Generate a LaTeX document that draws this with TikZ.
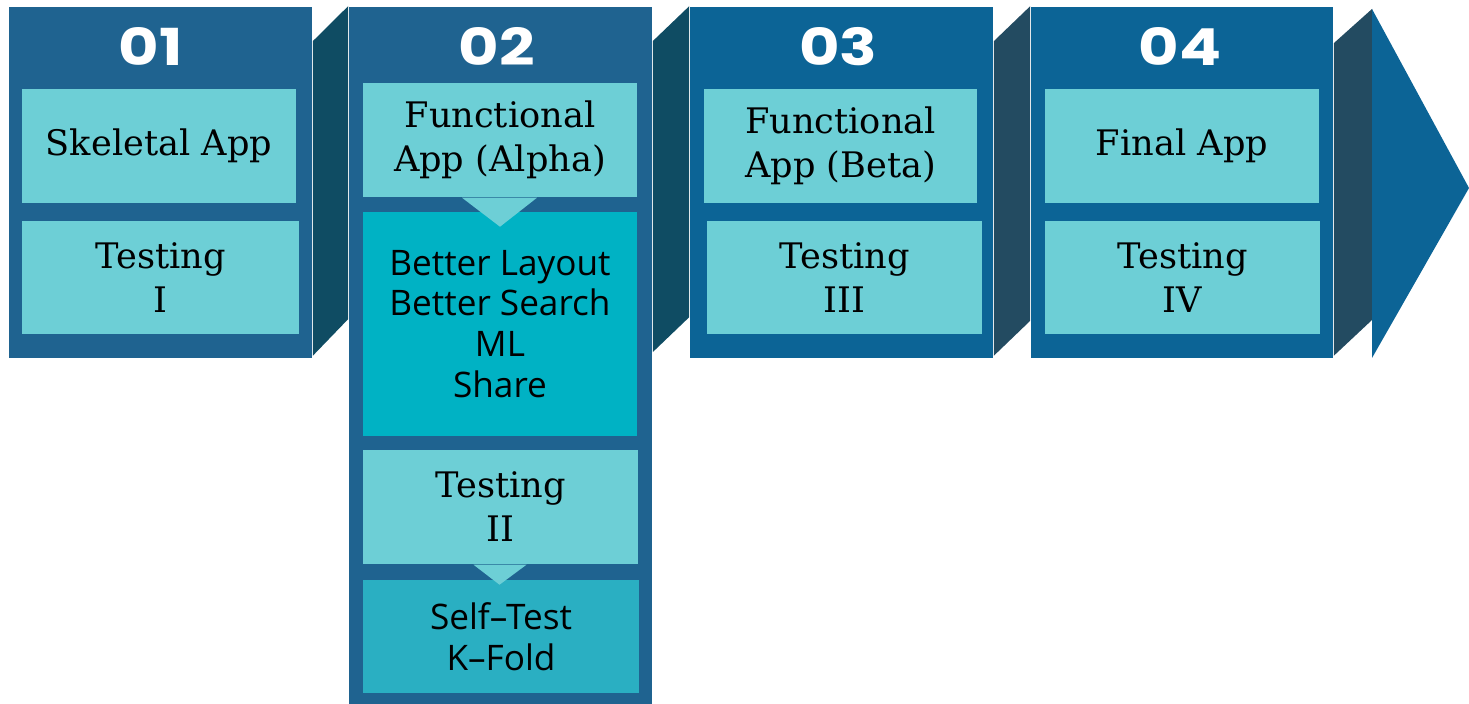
\documentclass[tikz,border=0pt]{standalone}
\usepackage{fontspec}
\setmainfont{DejaVu Serif}
\newfontfamily\headfont{Poppins}[FakeStretch=1.22]
\newfontfamily\listfont{Open Sans}
\usepackage{tikz}
\usetikzlibrary{calc}

\definecolor{panelA}{RGB}{31,99,144}
\definecolor{panelB}{RGB}{12,100,150}
\definecolor{faceA}{RGB}{15,76,99}
\definecolor{faceB}{RGB}{35,75,97}
\definecolor{tileLight}{RGB}{109,207,214}
\definecolor{tileMid}{RGB}{0,178,196}
\definecolor{tileSelf}{RGB}{42,175,194}

\begin{document}
\begin{tikzpicture} [x=0.01cm, y=-0.01cm,
  panel/.style={rectangle, inner sep=0pt, minimum width=3.03cm, minimum height=3.51cm},
  tile/.style={rectangle, inner sep=0pt, align=center, fill=tileLight,
               minimum width=2.74cm, minimum height=1.14cm, font=\fontsize{10}{12.5}\selectfont},
  listtile/.style={tile, font=\listfont\fontsize{10}{11.6}\selectfont},
  head/.style={text=white, inner sep=0pt, font=\headfont\bfseries\fontsize{14.5}{14.5}\selectfont}]
\useasboundingbox (0,0) rectangle (1469,704);

\path (160.5, 182.5) node[panel, fill=panelA] (p1) {}
      (500.5, 355.5) node[panel, fill=panelA, minimum height=6.97cm] (p2) {}
      (841.5, 182.5) node[panel, fill=panelB] (p3) {}
      (1182, 182.5) node[panel, fill=panelB, minimum width=3.02cm] (p4) {};

\coordinate (arrTop) at (1372, 9);
\coordinate (arrTip) at (1469, 188);
\coordinate (arrBot) at (1372, 358);

% side faces between the stages
\fill[faceA] ($(p1.north east)+(0,35)$) -- (p2.north west) -- ($(p2.north west)+(0,313)$) -- ($(p1.south east)+(0,-3)$) -- cycle;
\fill[faceA] ($(p2.north east)+(0,35)$) -- (p3.north west) -- ($(p3.north west)+(0,311)$) -- ($(p2.north east)+(0,346)$) -- cycle;
\fill[faceB] ($(p3.north east)+(0,35)$) -- (p4.north west) -- ($(p4.south west)+(0,-38)$) -- ($(p3.south east)+(0,-3)$) -- cycle;
\fill[faceB] ($(p4.north east)+(0,37)$) -- (arrTop) -- ($(arrTop)+(0,311)$) -- ($(p4.south east)+(0,-3)$) -- cycle;
\fill[panelB] (arrTop) -- (arrTip) -- (arrBot) -- cycle;

\path ($(p1.north)+(-10,40)$) node[head] (h1) {01}
      ($(p2.north)+(-4,40)$) node[head] (h2) {02}
      ($(p3.north)+(-3,40)$) node[head] (h3) {03}
      ($(p4.north)+(-2,40)$) node[head] (h4) {04};

\path (159, 146) node[tile] (a1) {Skeletal App}
      (160.5, 277.5) node[tile, minimum width=2.77cm, minimum height=1.13cm] (t1) {Testing\\I}
      (500, 140) node[tile] (a2) {Functional\\App (Alpha)}
      (500, 324) node[listtile, fill=tileMid, minimum height=2.24cm] (f2) {Better Layout\\Better Search\\ML\\Share}
      (500.5, 507) node[tile, minimum width=2.75cm] (t2) {Testing\\II}
      (501, 636.5) node[listtile, fill=tileSelf, minimum width=2.76cm, minimum height=1.13cm] (s2) {Self\textendash Test\\K\textendash Fold}
      (840.5, 146) node[tile, minimum width=2.73cm] (a3) {Functional\\App (Beta)}
      (844.5, 277.5) node[tile, minimum width=2.75cm, minimum height=1.13cm] (t3) {Testing\\III}
      (1182, 146) node[tile] (a4) {Final App}
      (1182.5, 277.5) node[tile, minimum width=2.75cm, minimum height=1.13cm] (t4) {Testing\\IV};

% pointers into the next tile
\fill[tileLight] ($(a2.south)+(-38,0)$) -- ($(a2.south)+(37,0)$) -- ($(a2.south)+(0,29)$) -- cycle;
\fill[tileLight] ($(t2.south)+(-27,0)$) -- ($(t2.south)+(26,0)$) -- ($(t2.south)+(-1,20)$) -- cycle;

\end{tikzpicture}
\end{document}
